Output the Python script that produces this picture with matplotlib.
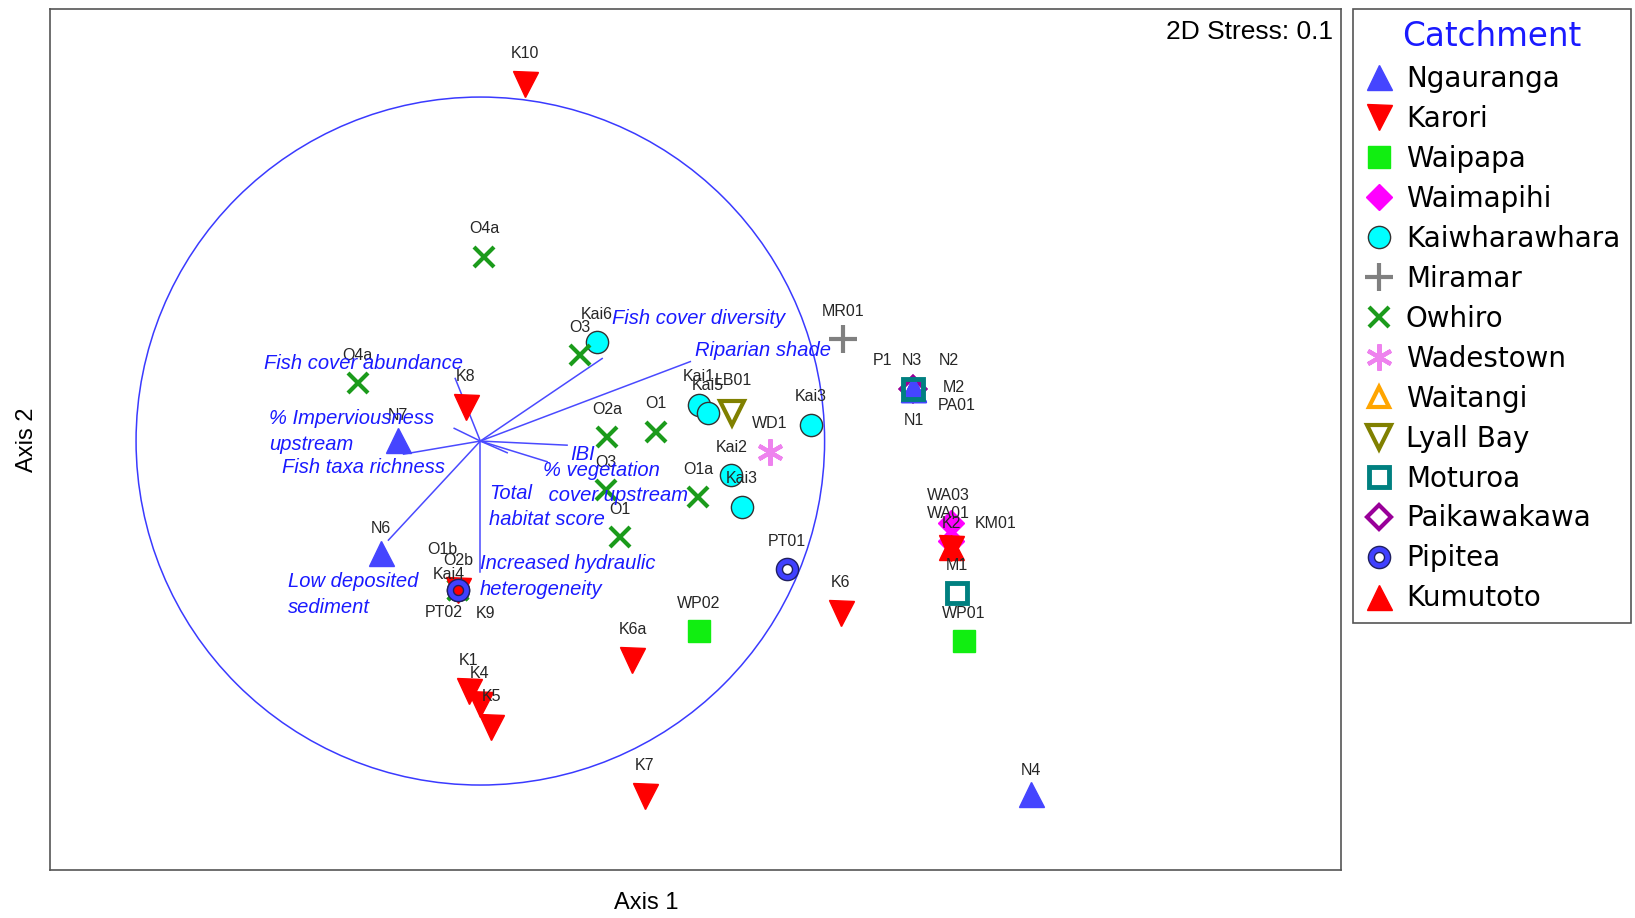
import numpy as np
import matplotlib.pyplot as plt
from matplotlib.path import Path

plt.rcParams['font.family'] = ['Liberation Sans', 'DejaVu Sans']

# Site scores on the two NMDS axes (units: vector circle radius = 1)
ngauranga_sites = ['N7', 'N6', 'N4', 'N1', 'N2', 'N3']
ngauranga_x = [-0.240, -0.289, 1.599, 1.257, 1.257, 1.257]
ngauranga_y = [0.003, -0.325, -1.027, 0.151, 0.151, 0.151]

karori_sites = ['K10', 'K8', 'K6', 'K6a', 'K7', 'K1', 'K4', 'K5', 'K9', 'K2']
karori_x = [0.130, -0.043, 1.047, 0.442, 0.478, -0.034, -0.001, 0.032, -0.065, 1.367]
karori_y = [1.039, 0.100, -0.500, -0.637, -1.033, -0.728, -0.764, -0.831, -0.433, -0.312]

waipapa_sites = ['WP02', 'WP01']
waipapa_x = [0.635, 1.405]
waipapa_y = [-0.552, -0.582]

waimapihi_sites = ['WA03', 'WA01']
waimapihi_x = [1.366, 1.366]
waimapihi_y = [-0.237, -0.290]

kai_sites = ['Kai6', 'Kai1', 'Kai5', 'Kai3', 'Kai2', 'Kai3', 'Kai4']
kai_x = [0.338, 0.635, 0.660, 0.960, 0.729, 0.760, -0.065]
kai_y = [0.288, 0.106, 0.082, 0.048, -0.100, -0.191, -0.433]

miramar_sites = ['MR01']
miramar_x = [1.054]
miramar_y = [0.296]

owhiro_sites = ['O4a', 'O4a', 'O3', 'O2a', 'O1', 'O3', 'O1a', 'O1', 'O1b', 'O2b']
owhiro_x = [0.011, -0.356, 0.289, 0.368, 0.511, 0.366, 0.632, 0.405, -0.065, -0.065]
owhiro_y = [0.536, 0.169, 0.250, 0.012, 0.027, -0.143, -0.164, -0.280, -0.433, -0.433]

wadestown_sites = ['WD1']
wadestown_x = [0.841]
wadestown_y = [-0.031]

waitangi_sites = []
waitangi_x = []
waitangi_y = []

lyall_sites = ['LB01']
lyall_x = [0.732]
lyall_y = [0.082]

moturoa_sites = ['M2', 'M1']
moturoa_x = [1.257, 1.384]
moturoa_y = [0.151, -0.443]

paikawakawa_sites = ['PA01', 'P1']
paikawakawa_x = [1.257, 1.257]
paikawakawa_y = [0.151, 0.151]

pipitea_sites = ['PT01', 'PT02']
pipitea_x = [0.890, -0.065]
pipitea_y = [-0.373, -0.433]

kumutoto_sites = ['KM01']
kumutoto_x = [1.367]
kumutoto_y = [-0.309]

# Environmental vectors (correlations)
vector_names = ['Fish cover abundance', '% Imperviousness\nupstream', 'Fish taxa richness',
                'Low deposited\nsediment', 'Increased hydraulic\nheterogeneity', 'Total\nhabitat score',
                '% vegetation\n cover upstream', 'IBI', 'Fish cover diversity', 'Riparian shade']
vector_x = [-0.073, -0.076, -0.223, -0.267, 0.000, 0.078, 0.194, 0.252, 0.354, 0.610]
vector_y = [0.182, 0.037, -0.038, -0.288, -0.380, -0.034, -0.060, -0.012, 0.240, 0.231]

# where the vector names sit, and how they are anchored
vector_label_pos = [(-0.340, 0.224, 'center'), (-0.614, 0.028, 'left'), (-0.340, -0.076, 'center'),
                    (-0.558, -0.446, 'left'), (-0.001, -0.394, 'left'), (0.026, -0.190, 'left'),
                    (0.181, -0.122, 'left'), (0.296, -0.040, 'center'), (0.635, 0.357, 'center'),
                    (0.820, 0.263, 'center')]

# ring marker for Pipitea
theta = np.linspace(0, 2 * np.pi, 65)
outer = np.column_stack([np.cos(theta), np.sin(theta)])
ring_verts = np.vstack([outer, 0.45 * outer[::-1]])
ring_codes = ([Path.MOVETO] + [Path.LINETO] * 63 + [Path.CLOSEPOLY]) * 2
ring = Path(ring_verts, ring_codes)

# catchment -> data, marker style, draw order, label offset (points)
catchments = {
    'Ngauranga': (ngauranga_sites, ngauranga_x, ngauranga_y,
                  dict(marker='^', ms=18, mfc='#4545ff', mec='#4545ff'), 2, 17.5),
    'Karori': (karori_sites, karori_x, karori_y,
               dict(marker='v', ms=18, mfc='#ff0000', mec='#ff0000'), 4, 22),
    'Waipapa': (waipapa_sites, waipapa_x, waipapa_y,
                dict(marker='s', ms=16, mfc='#11ee11', mec='#11ee11'), 3, 20),
    'Waimapihi': (waimapihi_sites, waimapihi_x, waimapihi_y,
                  dict(marker='D', ms=13.5, mfc='#ff00ff', mec='#ff00ff'), 3, 20),
    'Kaiwharawhara': (kai_sites, kai_x, kai_y,
                      dict(marker='o', ms=16, mfc='#00ffff', mec='#333333', mew=1), 3, 20),
    'Miramar': (miramar_sites, miramar_x, miramar_y,
                dict(marker='+', ms=20, mec='#808080', mew=3), 3, 20),
    'Owhiro': (owhiro_sites, owhiro_x, owhiro_y,
               dict(marker='x', ms=15, mec='#1b9b1b', mew=3), 3.5, 20),
    'Wadestown': (wadestown_sites, wadestown_x, wadestown_y,
                  dict(marker=(6, 2, 0), ms=19, mec='#ee82ee', mew=3), 3, 20),
    'Waitangi': (waitangi_sites, waitangi_x, waitangi_y,
                 dict(marker='^', ms=15, mfc='none', mec='#ffa500', mew=3), 3, 20),
    'Lyall Bay': (lyall_sites, lyall_x, lyall_y,
                  dict(marker='v', ms=17, mfc='none', mec='#808000', mew=3), 3, 22),
    'Moturoa': (moturoa_sites, moturoa_x, moturoa_y,
                dict(marker='s', ms=14, mfc='none', mec='#008080', mew=3.5), 3.8, 20),
    'Paikawakawa': (paikawakawa_sites, paikawakawa_x, paikawakawa_y,
                    dict(marker='D', ms=12, mfc='none', mec='#990099', mew=3), 1.8, 20),
    'Pipitea': (pipitea_sites, pipitea_x, pipitea_y,
                dict(marker=ring, ms=16, mfc='#4040ff', mec='#202060', mew=1), 4.5, 20),
    'Kumutoto': (kumutoto_sites, kumutoto_x, kumutoto_y,
                 dict(marker='^', ms=18, mfc='#ff0000', mec='#ff0000'), 4.2, 17.5),
}

# labels that were nudged to avoid overlaps (offset in points)
label_offsets = {'K9': (19.5, -17), 'PT02': (-10.5, -16.5), 'Kai4': (-6.8, 11.3),
                 'O1b': (-11.6, 29.3), 'O2b': (0.5, 21), 'P1': (-21.8, 20.3),
                 'N3': (-0.8, 20.3), 'N2': (25.5, 20.3), 'M2': (29.3, 1.5),
                 'PA01': (31.5, -12), 'N1': (0.8, -22.5), 'KM01': (32, 17.3),
                 'K2': (0, 18), 'WA03': (-1.5, 19.5), 'WA01': (-1.5, 20), 'LB01': (1, 23)}

fig = plt.figure(figsize=(16.35, 9.18), dpi=100)
ax = fig.add_axes([50 / 1635, 1 - 870 / 918, 1291 / 1635, 861 / 918])
ax.set_xlim(-1.25, 2.5)
ax.set_ylim(-1.247, 1.256)
ax.set_xticks([])
ax.set_yticks([])
for sp in ax.spines.values():
    sp.set_color('#555555')
    sp.set_linewidth(1.2)

# correlation circle and vectors
ax.add_patch(plt.Circle((0, 0), 1, fill=False, ec='#3a3aff', lw=1.1, zorder=1))
for vx, vy in zip(vector_x, vector_y):
    ax.plot([0, vx], [0, vy], color='#4a4aff', lw=1.1, zorder=1)

handles = []
for name, (sites, xs, ys, style, z, dy) in catchments.items():
    line, = ax.plot(xs, ys, linestyle='none', zorder=z, **style)
    handles.append(line)
    for s, x, y in zip(sites, xs, ys):
        off = label_offsets.get(s, (0, dy))
        ax.annotate(s, (x, y), xytext=off, textcoords='offset points', ha='center', va='center',
                    fontsize=11.5, color='#262626', zorder=5)

for name, (lx, ly, ha) in zip(vector_names, vector_label_pos):
    ax.text(lx, ly, name, ha=ha, va='center', fontsize=14.5, style='italic', color='#1a1aff',
            linespacing=1.45, zorder=6)

fig.text(1333 / 1635, 1 - 32 / 918, '2D Stress: 0.1', ha='right', va='center', fontsize=19)
fig.text(646 / 1635, 1 - 903 / 918, 'Axis 1', ha='center', va='center', fontsize=17)
fig.text(27 / 1635, 1 - 440 / 918, 'Axis 2', ha='center', va='center', fontsize=17, rotation=90)

leg = fig.legend(handles, list(catchments.keys()), loc='upper left',
                 bbox_to_anchor=(1353 / 1635, 1 - 9 / 918), borderaxespad=0,
                 prop={'family': 'DejaVu Sans', 'size': 20}, title='Catchment',
                 title_fontproperties={'family': 'DejaVu Sans', 'size': 23.5},
                 fancybox=False, edgecolor='#555555', framealpha=1,
                 handlelength=1.1, handletextpad=0.4, borderpad=0.4, labelspacing=0.43)
leg.get_title().set_color('#1a1aff')
leg.get_frame().set_linewidth(1.2)

fig.savefig('out.png', dpi=100)
